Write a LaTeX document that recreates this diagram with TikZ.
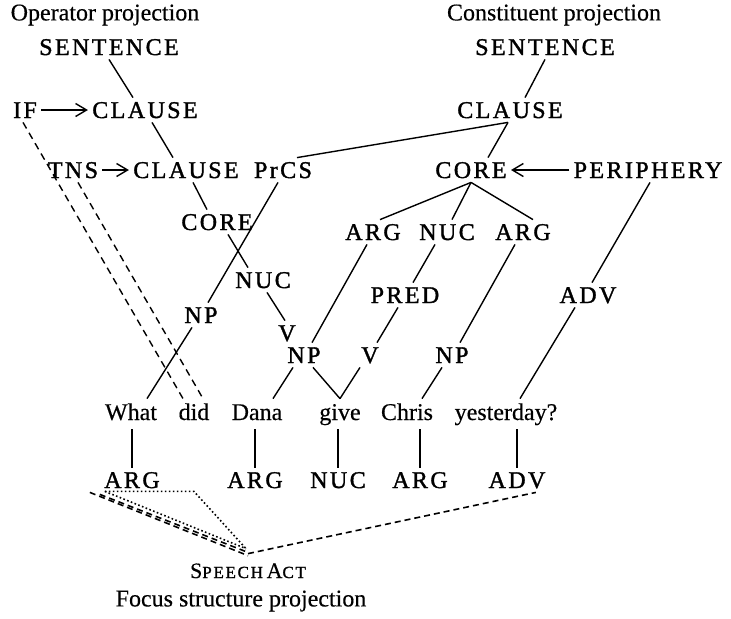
\documentclass[tikz,border=0pt]{standalone}
\usepackage{fontspec}
\setmainfont{Liberation Serif}[FakeBold=0.4]
\newfontfamily\catfont[LetterSpace=10, FakeBold=1.4]{Liberation Serif}
\usetikzlibrary{arrows.meta}
% small capitals for the speech act label
\newcommand{\smc}[1]{{\catfont\fontsize{8.5}{10}\selectfont #1}}

\begin{document}
\begin{tikzpicture}[
    x=0.5pt, y=-0.5pt,
    % labels of the projections: spaced capitals, no descenders
    cat/.style={font=\catfont\fontsize{12}{14}\selectfont, inner sep=2pt,
                text height=8pt, text depth=0pt},
    word/.style={font=\fontsize{12}{14}\selectfont, inner sep=2pt,
                 text height=8.5pt, text depth=2.5pt, anchor=base},
    ptitle/.style={font=\fontsize{12}{14}\selectfont, inner sep=0pt},
    edge/.style={line width=0.7pt},
    oparr/.style={-{Straight Barb[length=5.5pt, width=6.5pt]}, line width=0.7pt},
    opdash/.style={dash pattern=on 3.5pt off 2.5pt, line width=0.7pt},
    fdash/.style={dash pattern=on 3pt off 2pt, line width=0.8pt},
    fdot/.style={dash pattern=on 0.8pt off 1.2pt, line width=0.8pt}
]
\useasboundingbox (0,0) rectangle (731,618);

% ===== TITLES =====
\node[ptitle] (t1) at (105,15) {Operator projection};
\node[ptitle] (t2) at (554,15) {Constituent projection};
\node[ptitle] (t3) at (241,601) {Focus structure projection};

% ===== OPERATOR PROJECTION =====
\node[cat] (o0) at (109,47) {SENTENCE};
\node[cat] (o1) at (25,110) {IF};
\node[cat] (o2) at (145,110) {CLAUSE};
\node[cat] (o3) at (73,170) {TNS};
\node[cat] (o4) at (186,170) {CLAUSE};
\node[cat] (o5) at (217,222) {CORE};
\node[cat] (o6) at (263,280) {NUC};
\node[cat] (o7) at (287,333) {V};

\draw[edge] (o0.south) -- ([xshift=-6pt]o2.north);
\draw[edge] ([xshift=3.5pt]o2.south) -- ([xshift=-6.5pt]o4.north);
\draw[edge] ([xshift=3.5pt]o4.south) -- ([xshift=-5pt]o5.north);
\draw[edge] ([xshift=5.5pt]o5.south) -- ([xshift=-7.5pt]o6.north);
\draw[edge] ([xshift=2pt]o6.south) -- ([xshift=-1pt]o7.north);
% operators pointing at the layer they modify
\draw[oparr] (o1.east) -- (o2.west);
\draw[oparr] (o3.east) -- (o4.west);

% ===== CONSTITUENT PROJECTION =====
\node[cat] (c0) at (545,47) {SENTENCE};
\node[cat] (c1) at (510,110) {CLAUSE};
\node[cat] (c2) at (283,170) {PrCS};
\node[cat] (c3) at (471,170) {CORE};
\node[cat] (c4) at (648,170) {PERIPHERY};
\node[cat] (c5) at (373,232) {ARG};
\node[cat] (c6) at (447,232) {NUC};
\node[cat] (c7) at (523,232) {ARG};
\node[cat] (c8) at (405,295) {PRED};
\node[cat] (c9) at (588,295) {ADV};
\node[cat] (c10) at (201,315) {NP};
\node[cat] (c11) at (304,355) {NP};
\node[cat] (c12) at (370,355) {V};
\node[cat] (c13) at (452,355) {NP};

\draw[edge] (c0.south) -- ([xshift=7.5pt]c1.north);
\draw[edge] ([xshift=-1pt]c1.south) -- ([xshift=7pt]c2.north);
\draw[edge] ([xshift=-1pt]c1.south) -- ([xshift=8.5pt]c3.north);
\draw[oparr] (c4.west) -- (c3.east);
\draw[edge] (c3.south) -- ([xshift=3.5pt]c5.north);
\draw[edge] (c3.south) -- ([xshift=2.5pt]c6.north);
\draw[edge] (c3.south) -- ([xshift=5pt]c7.north);
\draw[edge] ([xshift=1pt]c4.south) -- ([xshift=2pt]c9.north);
\draw[edge] ([xshift=-3pt]c5.south) -- ([xshift=4pt]c11.north);
\draw[edge] ([xshift=-6pt]c6.south) -- ([xshift=4pt]c8.north);
\draw[edge] ([xshift=-4pt]c7.south) -- ([xshift=4pt]c13.north);
\draw[edge] ([xshift=-3.5pt]c8.south) -- ([xshift=3.5pt]c12.north);
\draw[edge] ([xshift=-2.5pt]c2.south) -- ([xshift=3.5pt]c10.north);

% ===== SENTENCE =====
\node[word] (w1) at (131,420) {What};
\node[word] (w2) at (194,420) {did};
\node[word] (w3) at (257,420) {Dana};
\node[word] (w4) at (340,420) {give};
\node[word] (w5) at (407,420) {Chris};
\node[word] (w6) at (506,420) {yesterday?};

\draw[edge] ([xshift=-4.5pt]c10.south) -- ([xshift=8pt]w1.north);
\draw[edge] ([xshift=-5.5pt]c11.south) -- ([xshift=8pt]w3.north);
\draw[edge] ([xshift=4.5pt]c11.south) -- (w4.north);
\draw[edge] ([xshift=-5pt]c12.south) -- (w4.north);
\draw[edge] ([xshift=-5pt]c13.south) -- ([xshift=7.5pt]w5.north);
\draw[edge] ([xshift=-6.5pt]c9.south) -- ([xshift=7pt]w6.north);
% IF and TNS both expressed by the auxiliary
\draw[opdash] ([xshift=-1pt]o1.south) -- ([xshift=-5.5pt]w2.north);
\draw[opdash] ([xshift=2.5pt]o3.south) -- ([xshift=4.5pt]w2.north);

% ===== FOCUS STRUCTURE PROJECTION =====
\node[cat] (f1) at (132,480) {ARG};
\node[cat] (f2) at (255,480) {ARG};
\node[cat] (f3) at (338,480) {NUC};
\node[cat] (f4) at (420,480) {ARG};
\node[cat] (f5) at (517,480) {ADV};
\node[cat, font=\fontsize{11}{13}\selectfont] (sa) at (248,570)
    {S\smc{PEECH}\,A\smc{CT}};
\coordinate (apex) at ([yshift=2pt]sa.north);

\draw[edge] (f1.north |- w1.south) -- (f1.north);
\draw[edge] (f2.north |- w3.south) -- (f2.north);
\draw[edge] (f3.north |- w4.south) -- (f3.north);
\draw[edge] (f4.north |- w5.south) -- (f4.north);
\draw[edge] (f5.north |- w6.south) -- (f5.north);

% actual focus domain (dashed), potential focus domain (dotted)
\draw[fdash] ([xshift=-5pt]f1.south west) -- ([yshift=-1pt]apex);
\draw[fdash] ([yshift=-1pt]f1.south west) -- ([xshift=-1pt,yshift=1pt]apex);
\draw[fdot] ([xshift=2.5pt,yshift=0.5pt]f1.south west) -- ([xshift=-1pt,yshift=2.5pt]apex);
\draw[fdot] ([xshift=2.5pt,yshift=0.5pt]f1.south west)
    -- ([yshift=0.5pt]w2 |- f1.south) -- ([xshift=-1pt,yshift=2.5pt]apex);
\draw[fdash] (apex) -- ([xshift=-7pt]f5.south east);

\end{tikzpicture}
\end{document}
